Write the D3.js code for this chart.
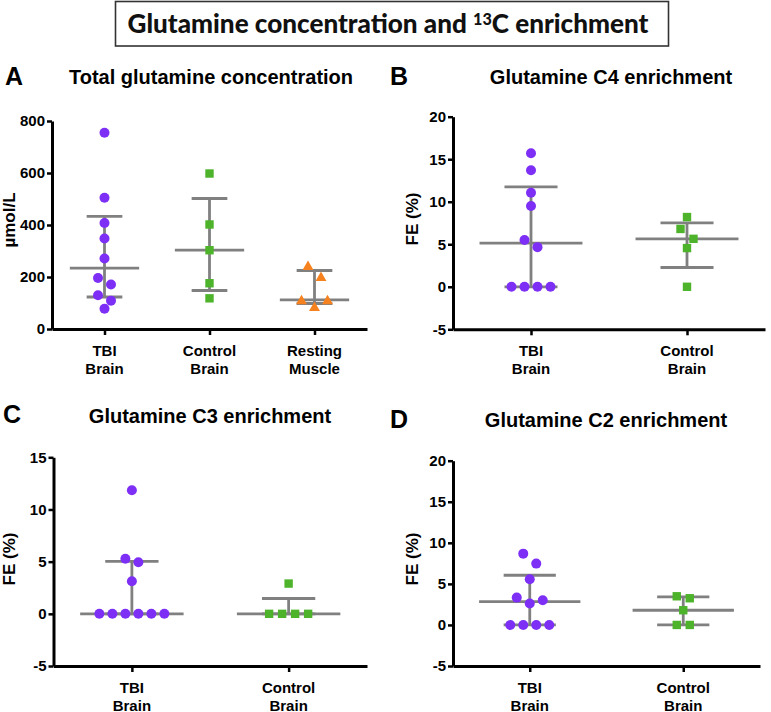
<!DOCTYPE html>
<html><head><meta charset="utf-8">
<script src="https://cdn.jsdelivr.net/npm/d3@7"></script>
<style>body{margin:0;background:#fff} svg{display:block}</style>
</head><body>
<svg id="chart" width="771" height="712"></svg>
<script>
// ---------- text ----------
const figureTitleParts = ["Glutamine concentration and ", "13", "C enrichment"];
const panelLetters = ["A", "B", "C", "D"];
const panelTitles = ["Total glutamine concentration", "Glutamine C4 enrichment", "Glutamine C3 enrichment", "Glutamine C2 enrichment"];
const yAxisTitles = ["\u00b5mol/L", "FE (%)", "FE (%)", "FE (%)"];

// ---------- categories & ticks ----------
const categoriesA = ["TBI Brain", "Control Brain", "Resting Muscle"];
const categoriesEnrich = ["TBI Brain", "Control Brain"];
const ticksA = [0, 200, 400, 600, 800];
const ticksB = [-5, 0, 5, 10, 15, 20];
const ticksC = [-5, 0, 5, 10, 15];
const ticksD = [-5, 0, 5, 10, 15, 20];

// ---------- values ----------
// A: total glutamine concentration (umol/L)
const concTBI = [755, 505, 408, 348, 271, 196, 171, 130, 109, 78];
const concControl = [598, 402, 303, 176, 118];
const concMuscle = [241, 199, 109, 109, 83];
// B: C4 fractional enrichment (%)
const c4TBI = [15.7, 13.7, 11.05, 9.5, 5.5, 4.66, 0, 0, 0, 0];
const c4Control = [8.2, 6.8, 5.64, 4.55, 0];
// C: C3 fractional enrichment (%)
const c3TBI = [11.85, 5.27, 4.95, 3.13, 0, 0, 0, 0, 0, 0];
const c3Control = [2.9, 0, 0, 0, 0];
// D: C2 fractional enrichment (%)
const c2TBI = [8.68, 7.47, 5.56, 3.33, 3.0, 2.6, 0, 0, 0, 0];
const c2Control = [3.49, 3.25, 1.79, 0, 0];

// summary lines: [median, lower, upper]
const sumConcTBI = [234, 123, 433];
const sumConcControl = [303, 148, 502];
const sumConcMuscle = [112, 98, 225];
const sumC4TBI = [5.13, 0, 11.75];
const sumC4Control = [5.64, 2.27, 7.52];
const sumC3TBI = [0, 0, 5.02];
const sumC3Control = [0, 0, 1.47];
const sumC2TBI = [2.84, 0, 6.05];
const sumC2Control = [1.79, 0, 3.41];

// ---------- styles ----------
const colors = { tbi: "#7d2ff5", control: "#4db32b", muscle: "#f5821f" };
const shapes = { tbi: "circle", control: "square", muscle: "triangle" };
const FONT = "'Liberation Sans', Arial, Helvetica, sans-serif";
const grayLine = "#808080";

// ---------- panel layout ----------
const panels = [
  { letter: panelLetters[0], title: panelTitles[0], ytitle: yAxisTitles[0], cats: categoriesA,
    groups: [["tbi", concTBI, sumConcTBI], ["control", concControl, sumConcControl], ["muscle", concMuscle, sumConcMuscle]],
    domain: [0, 800], ticks: ticksA, xr: [52, 367], yr: [329, 121],
    letterPos: [5, 85], titlePos: [211, 84], ytitlePos: [15, 220] },
  { letter: panelLetters[1], title: panelTitles[1], ytitle: yAxisTitles[1], cats: categoriesEnrich,
    groups: [["tbi", c4TBI, sumC4TBI], ["control", c4Control, sumC4Control]],
    domain: [-5, 20], ticks: ticksB, xr: [453, 765], yr: [329.3, 116.7],
    letterPos: [390, 85], titlePos: [611, 84], ytitlePos: [418, 219] },
  { letter: panelLetters[2], title: panelTitles[2], ytitle: yAxisTitles[2], cats: categoriesEnrich,
    groups: [["tbi", c3TBI, sumC3TBI], ["control", c3Control, sumC3Control]],
    domain: [-5, 15], ticks: ticksC, xr: [53.5, 367], yr: [666, 457.3],
    letterPos: [3, 423], titlePos: [210, 423], ytitlePos: [15, 559] },
  { letter: panelLetters[3], title: panelTitles[3], ytitle: yAxisTitles[3], cats: categoriesEnrich,
    groups: [["tbi", c2TBI, sumC2TBI], ["control", c2Control, sumC2Control]],
    domain: [-5, 20], ticks: ticksD, xr: [453, 760], yr: [666, 460.7],
    letterPos: [390, 428], titlePos: [606, 427], ytitlePos: [418, 559] }
];

const svg = d3.select("#chart");

// ---------- figure title box ----------
svg.append("rect").attr("x", 115.5).attr("y", 1.5).attr("width", 553).attr("height", 44.5)
  .attr("fill", "#fff").attr("stroke", "#333").attr("stroke-width", 1.6);
const ft = svg.append("text").attr("x", 388).attr("y", 33).attr("text-anchor", "middle")
  .attr("font-family", "Lato, 'Open Sans', sans-serif").attr("font-weight", 900).attr("font-size", 24).attr("fill", "#111");
ft.append("tspan").text(figureTitleParts[0]);
ft.append("tspan").attr("dy", -8).attr("font-size", "0.62em").text(figureTitleParts[1]);
ft.append("tspan").attr("dy", 8).text(figureTitleParts[2]);
{
  const w = ft.node().getComputedTextLength();
  const fs = 24 * 521 / w;
  ft.attr("font-size", fs);
}

// ---------- beeswarm offsets (row grouping like Prism) ----------
function swarm(values, y, step, thresh) {
  const idx = values.map((v, i) => i).sort((a, b) => values[b] - values[a]);
  const rows = [];
  let cur = null;
  idx.forEach(i => {
    const py = y(values[i]);
    if (cur && Math.abs(py - cur.y0) < thresh) cur.items.push(i);
    else { cur = { y0: py, items: [i] }; rows.push(cur); }
  });
  const off = new Array(values.length).fill(0);
  rows.forEach(r => {
    const n = r.items.length;
    const slots = d3.range(n).map(k => (k - (n - 1) / 2) * step);
    if (n % 2 === 1 && n > 1) {
      const mid = slots.splice((n - 1) / 2, 1)[0];
      r.items.slice(0, n - 1).forEach((it, k) => off[it] = slots[k]);
      off[r.items[n - 1]] = mid;
    } else {
      r.items.forEach((it, k) => off[it] = slots[k]);
    }
  });
  return off;
}

// ---------- draw panels ----------
panels.forEach(p => {
  const g = svg.append("g");
  const x = d3.scalePoint().domain(p.cats).range(p.xr).padding(0.5);
  const y = d3.scaleLinear().domain(p.domain).range(p.yr);
  const band = x.step();

  // letter & title
  g.append("text").attr("x", p.letterPos[0]).attr("y", p.letterPos[1])
    .attr("font-family", FONT).attr("font-weight", "bold").attr("font-size", 25).text(p.letter);
  g.append("text").attr("x", p.titlePos[0]).attr("y", p.titlePos[1]).attr("text-anchor", "middle")
    .attr("font-family", FONT).attr("font-weight", "bold").attr("font-size", 20).text(p.title);
  g.append("text").attr("transform", `translate(${p.ytitlePos[0]},${p.ytitlePos[1]}) rotate(-90)`)
    .attr("text-anchor", "middle").attr("font-family", FONT).attr("font-weight", "bold").attr("font-size", 17)
    .text(p.ytitle);

  // axes
  const ya = g.append("g").attr("transform", `translate(${p.xr[0]},0)`)
    .call(d3.axisLeft(y).tickValues(p.ticks).tickFormat(d => String(d)).tickSize(5).tickSizeOuter(0).tickPadding(2));
  ya.select(".domain").attr("stroke", "#000").attr("stroke-width", 3);
  ya.selectAll(".tick line").attr("stroke", "#000").attr("stroke-width", 2.5);
  ya.selectAll(".tick text").attr("font-family", FONT).attr("font-weight", "bold").attr("font-size", 15).attr("fill", "#000");

  const xa = g.append("g").attr("transform", `translate(0,${p.yr[0]})`)
    .call(d3.axisBottom(x).tickSize(6).tickSizeOuter(0).tickFormat(""));
  xa.select(".domain").attr("stroke", "#000").attr("stroke-width", 3);
  xa.selectAll(".tick line").attr("stroke", "#000").attr("stroke-width", 2.5);
  p.cats.forEach(c => {
    const parts = c.split(" ");
    const t = g.append("text").attr("text-anchor", "middle").attr("font-family", FONT)
      .attr("font-weight", "bold").attr("font-size", 15);
    parts.forEach((s, k) => t.append("tspan").attr("x", x(c)).attr("y", p.yr[0] + 27 + k * 17.5).text(s));
  });

  // groups
  p.groups.forEach(([key, vals, sum], gi) => {
    const cx = x(p.cats[gi]);
    const offs = swarm(vals, y, 13, 11.5);
    const color = colors[key];
    const shape = shapes[key];
    // summary: median line + error bars (drawn first, points on top)
    const [med, lo, hi] = sum;
    const mw = band * 0.33, cw = band * 0.17;
    const sg = g.append("g").attr("stroke", grayLine).attr("stroke-width", 2.8).attr("fill", "none");
    sg.append("line").attr("x1", cx).attr("x2", cx).attr("y1", y(lo)).attr("y2", y(hi));
    sg.append("line").attr("x1", cx - cw).attr("x2", cx + cw).attr("y1", y(hi)).attr("y2", y(hi));
    sg.append("line").attr("x1", cx - cw).attr("x2", cx + cw).attr("y1", y(lo)).attr("y2", y(lo));
    sg.append("line").attr("x1", cx - mw).attr("x2", cx + mw).attr("y1", y(med)).attr("y2", y(med));

    const pts = g.append("g");
    vals.forEach((v, i) => {
      const px = cx + offs[i], py = y(v);
      if (shape === "circle") {
        pts.append("circle").attr("cx", px).attr("cy", py).attr("r", 5).attr("fill", color);
      } else if (shape === "square") {
        pts.append("rect").attr("x", px - 4.2).attr("y", py - 4.2).attr("width", 8.4).attr("height", 8.4).attr("fill", color);
      } else {
        pts.append("path").attr("d", d3.symbol(d3.symbolTriangle, 52)()).attr("transform", `translate(${px},${py + 0.5})`).attr("fill", color);
      }
    });
  });
});
</script>
</body></html>
